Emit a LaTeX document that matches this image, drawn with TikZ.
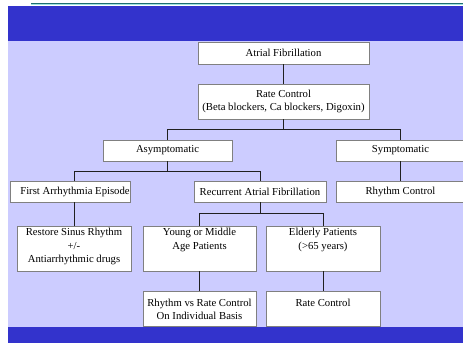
\documentclass[tikz,border=0pt]{standalone}
\usepackage{fontspec}
\setmainfont{Liberation Serif}
\usetikzlibrary{shadows}
\definecolor{bandblue}{HTML}{3333CC}
\definecolor{lav}{HTML}{CCCCFF}
\definecolor{tealline}{HTML}{1F7070}
\definecolor{cyanline}{HTML}{A0E0E0}
\definecolor{boxedge}{HTML}{808080}
\definecolor{conn}{HTML}{202020}
\tikzset{
  box/.style={rectangle, fill=white, draw=boxedge, line width=0.8pt, inner sep=0pt,
    drop shadow={shadow xshift=1pt, shadow yshift=-1pt, fill=black!32, opacity=1}},
  txt/.style={inner sep=0pt, align=center, font={\fontsize{10.7}{13.2}\selectfont}},
  link/.style={draw=conn, line width=0.9pt}
}
\begin{document}
\begin{tikzpicture}[x=1pt,y=-1pt]
\useasboundingbox (0,0) rectangle (463,343);
% background
\fill[white] (0,0) rectangle (463,343);
\fill[bandblue] (8,6) rectangle (463,41);
\fill[lav] (8,41) rectangle (463,327);
\fill[bandblue] (8,327) rectangle (463,343);
\draw[tealline, line width=1.2pt] (31,3.4) -- (463,3.4);
\draw[cyanline, line width=0.8pt] (31,4.7) -- (463,4.7);
% boxes
\node[box, minimum width=171pt, minimum height=22pt] (af) at (283.5,53) {};
\node[box, minimum width=171pt, minimum height=35pt] (rc) at (283.5,101.5) {};
\node[box, minimum width=129pt, minimum height=21pt] (asym) at (167.5,150.5) {};
\node[box, minimum width=129pt, minimum height=21pt] (sym) at (400.5,150.5) {};
\node[box, minimum width=120pt, minimum height=21pt] (first) at (70,191.5) {};
\node[box, minimum width=132pt, minimum height=21pt] (rec) at (260,191.5) {};
\node[box, minimum width=129pt, minimum height=21pt] (rhy) at (400.5,191.5) {};
\node[box, minimum width=114pt, minimum height=45pt] (restore) at (74,248.5) {};
\node[box, minimum width=113pt, minimum height=45pt] (young) at (199.5,248.5) {};
\node[box, minimum width=114pt, minimum height=45pt] (eld) at (323,248.5) {};
\node[box, minimum width=113pt, minimum height=35pt] (rvr) at (199.5,308.5) {};
\node[box, minimum width=114pt, minimum height=35pt] (rate) at (323,308.5) {};
% texts
\node[txt] (aft) at (283.5,53) {Atrial Fibrillation};
\node[txt] (rct) at (283.5,101.5) {Rate Control\\(Beta blockers, Ca blockers, Digoxin)};
\node[txt] (asymt) at (167.5,150.5) {Asymptomatic};
\node[txt] (symt) at (400.5,150.5) {Symptomatic};
\node[txt] (firstt) at (75,191.5) {First Arrhythmia Episode};
\node[txt] (rect) at (260,191.5) {Recurrent Atrial Fibrillation};
\node[txt] (rhyt) at (400.5,191.5) {Rhythm Control};
\node[txt] (restoret) at (74,246.5) {Restore Sinus Rhythm\\+/-\\Antiarrhythmic drugs};
\node[txt] (youngt) at (199.5,240) {Young or Middle\\Age Patients};
\node[txt] (eldt) at (323,240) {Elderly Patients\\(>65 years)};
\node[txt] (rvrt) at (199.5,309) {Rhythm vs Rate Control\\On Individual Basis};
\node[txt] (ratet) at (323,302.5) {Rate Control};
% connectors
\coordinate (b1) at (283.5,129);
\coordinate (b2) at (167.5,171);
\coordinate (b3) at (260.5,213);
\draw[link] (af.south) -- (rc.north);
\draw[link] (rc.south) -- (b1) -| (asym.north);
\draw[link] (b1) -| (sym.north);
\draw[link] (asym.south) -- (b2) -| ([xshift=4pt]first.north);
\draw[link] (b2) -| ([xshift=0.5pt]rec.north);
\draw[link] (sym.south) -- (rhy.north);
\draw[link] (restore.north) -- (restore.north |- first.south);
\draw[link] ([xshift=0.5pt]rec.south) -- (b3) -| (young.north);
\draw[link] (b3) -| (eld.north);
\draw[link] (young.south) -- (rvr.north);
\draw[link] (eld.south) -- (rate.north);
\end{tikzpicture}
\end{document}
